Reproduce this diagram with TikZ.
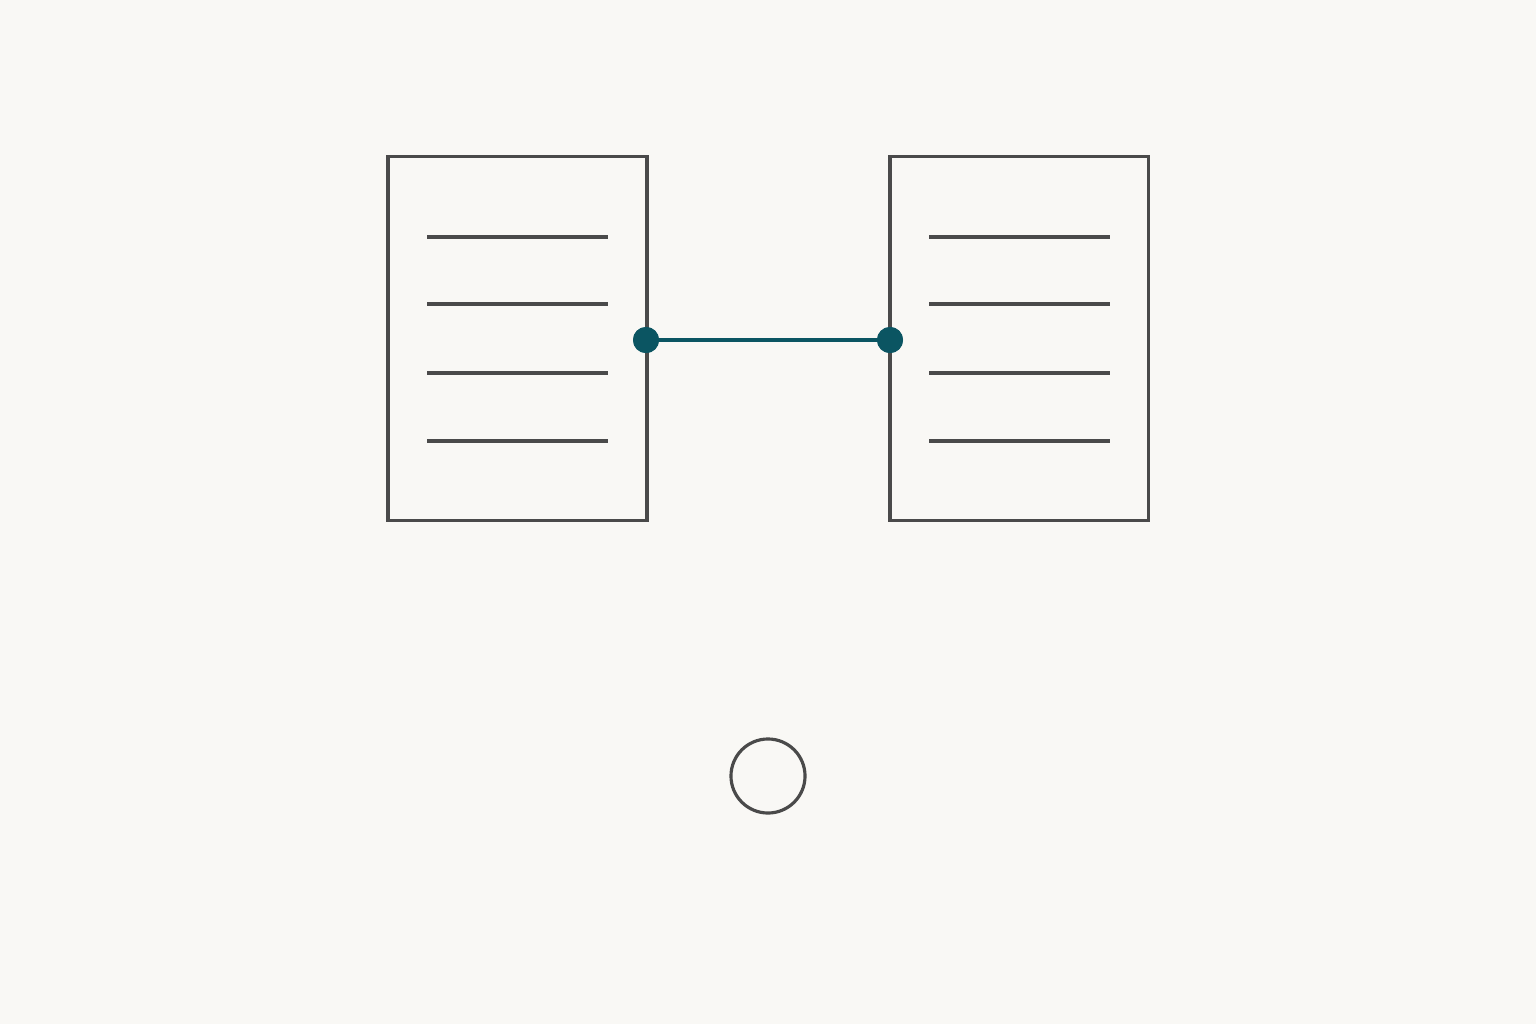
\documentclass[tikz,border=0pt]{standalone}
\begin{document}
\begin{tikzpicture}[x=0.01cm,y=-0.01cm,
  boxline/.style={draw=gray4a,line width=0.9pt},
  rowline/.style={draw=gray4a,line width=1.0pt},
  link/.style={draw=tealc,line width=1.3pt},
  dotnode/.style={circle,fill=tealc,inner sep=0pt,outer sep=0pt,minimum size=0.26cm}]
\definecolor{gray4a}{HTML}{4A4A4A}
\definecolor{tealc}{HTML}{0B5562}
\definecolor{bgc}{HTML}{F9F8F5}
\fill[bgc] (0,0) rectangle (1536,1024);
\useasboundingbox (0,0) rectangle (1536,1024);
\node[boxline,rectangle,inner sep=0pt,minimum width=2.59cm,minimum height=3.63cm] (L) at (517.5,338.5) {};
\node[boxline,rectangle,inner sep=0pt,minimum width=2.58cm,minimum height=3.63cm] (R) at (1019,338.5) {};
\foreach \y in {237,304,373,441}{
  \draw[rowline] (427,\y) -- (608,\y);
  \draw[rowline] (929,\y) -- (1110,\y);
}
\node[dotnode] (dl) at (646,340) {};
\node[dotnode] (dr) at (890,340) {};
\draw[link] (dl.center) -- (dr.center);
\node[dotnode] at (dl) {};
\node[dotnode] at (dr) {};
\node[circle,draw=gray4a,line width=0.9pt,minimum size=0.74cm,inner sep=0pt] (c) at (768,776) {};
\end{tikzpicture}
\end{document}
